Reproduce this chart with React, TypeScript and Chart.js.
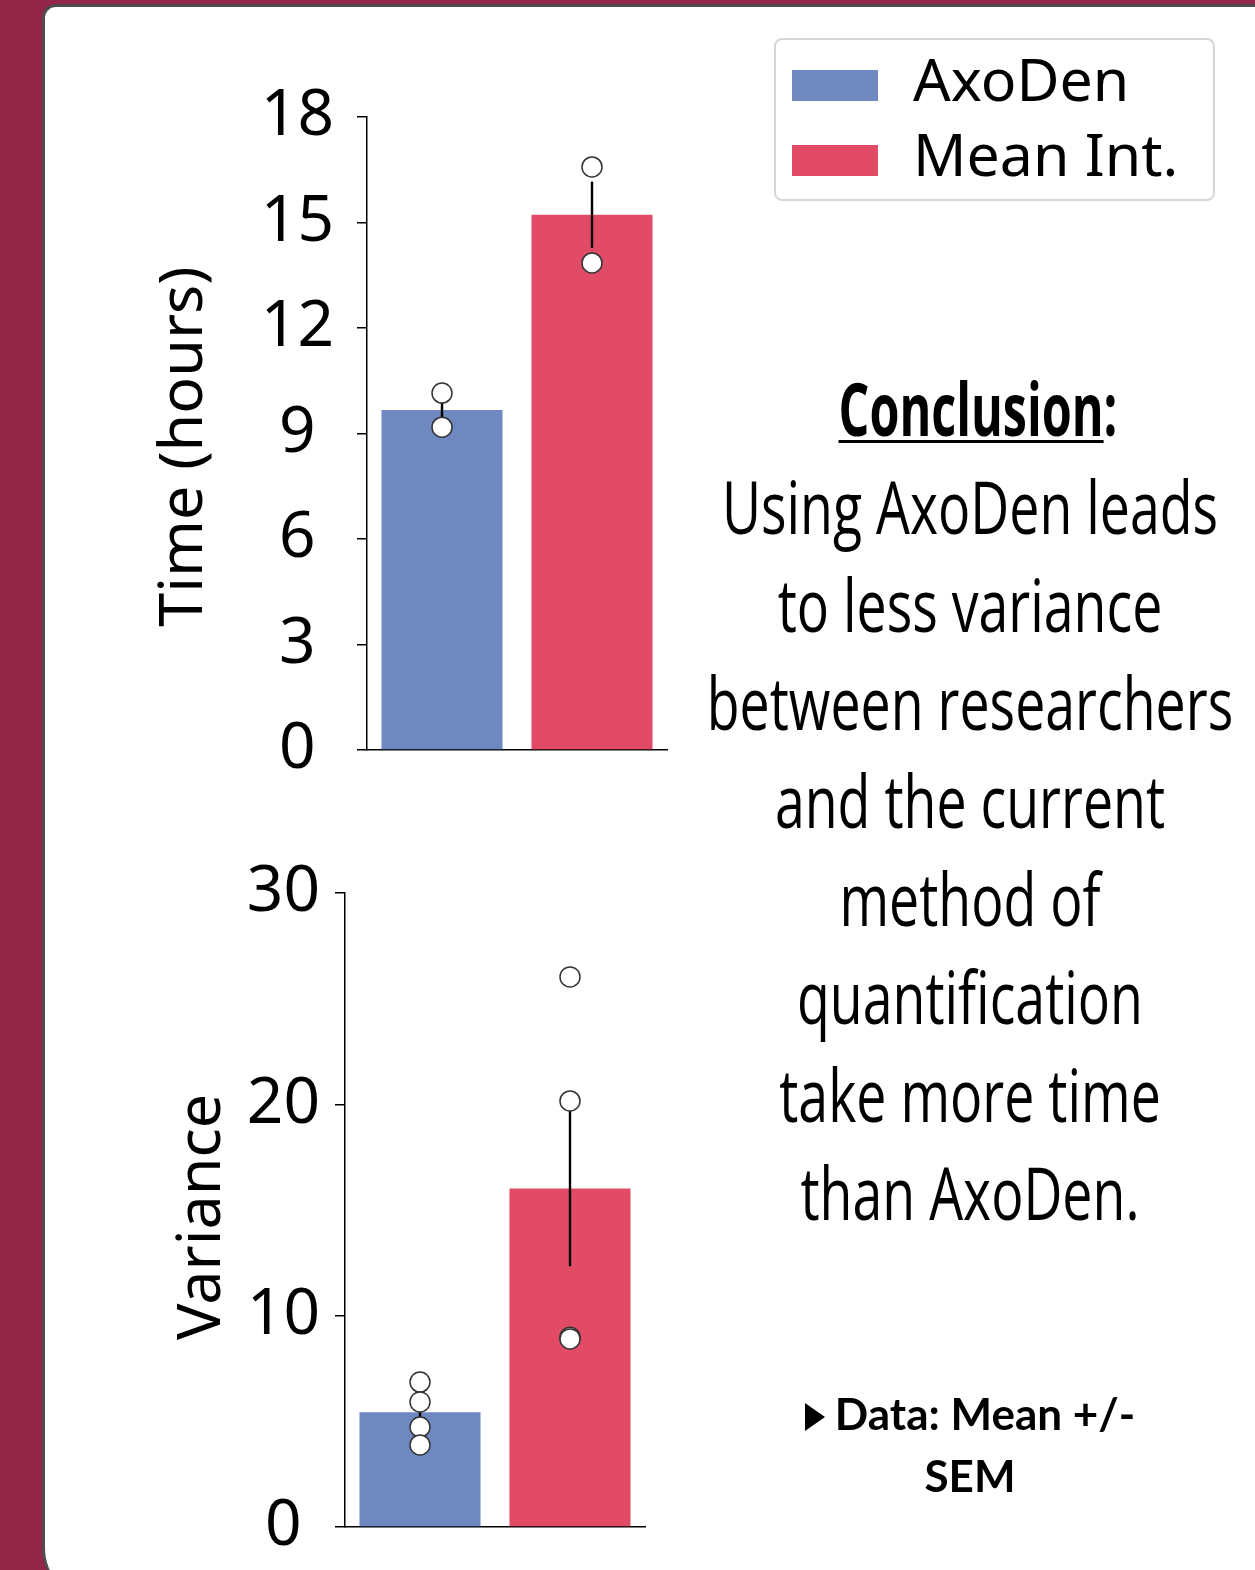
import React, { useEffect, useRef } from "react";
import { Chart, registerables } from "chart.js";

Chart.register(...registerables);

// ---------------- data ----------------
const categories = ["AxoDen", "Mean Int."];
const barColors = ["#6f88c0", "#e14b66"];

const timeMeans = [9.67, 15.22];
const timeSEM = [0.28, 0.94];
const timePointsAxoDen = [10.15, 9.18];
const timePointsMeanInt = [16.58, 13.85];
const timeTicks = [0, 3, 6, 9, 12, 15, 18];

const varianceMeans = [5.43, 16.02];
const varianceSEM = [0.57, 3.68];
const variancePointsAxoDen = [6.86, 5.92, 4.73, 3.88];
const variancePointsMeanInt = [26.03, 20.16, 8.98, 8.9];
const varianceTicks = [0, 10, 20, 30];

const conclusionLines = [
  "Using AxoDen leads",
  "to less variance",
  "between researchers",
  "and the current",
  "method of",
  "quantification",
  "take more time",
  "than AxoDen.",
];

// ---------------- chart ----------------
function errorBarPlugin(means: number[], sems: number[]) {
  return {
    id: "errorBars",
    afterDatasetDraw(chart: any, args: any) {
      if (args.index !== 0) return;
      const { ctx } = chart;
      const xs = chart.scales.x;
      const ys = chart.scales.y;
      ctx.save();
      ctx.strokeStyle = "#000";
      ctx.lineWidth = 2.4;
      means.forEach((m, i) => {
        const px = xs.getPixelForValue(i);
        ctx.beginPath();
        ctx.moveTo(px, ys.getPixelForValue(m - sems[i]));
        ctx.lineTo(px, ys.getPixelForValue(m + sems[i]));
        ctx.stroke();
      });
      ctx.restore();
    },
  };
}

function axisTitlePlugin(text: string, cx: number, dy: number) {
  return {
    id: "axisTitle",
    afterDraw(chart: any) {
      const { ctx, chartArea } = chart;
      ctx.save();
      ctx.translate(cx, (chartArea.top + chartArea.bottom) / 2 + dy);
      ctx.rotate(-Math.PI / 2);
      ctx.fillStyle = "#000";
      ctx.font = "61px 'Noto Sans'";
      ctx.textAlign = "center";
      ctx.textBaseline = "middle";
      ctx.fillText(text, 0, 0);
      ctx.restore();
    },
  };
}

type BarProps = {
  means: number[];
  sems: number[];
  ptsA: number[];
  ptsB: number[];
  ticks: number[];
  title: string;
  left: number;
  top: number;
  width: number;
  height: number;
  padding: { left: number; top: number; right: number; bottom: number };
  yWidth: number;
  tickPad: number;
  titleX: number;
  titleDy: number;
};

function BarChart(p: BarProps) {
  const ref = useRef<HTMLCanvasElement>(null);
  useEffect(() => {
    if (!ref.current) return;
    const points = [
      ...p.ptsA.map((y) => ({ x: categories[0], y })),
      ...p.ptsB.map((y) => ({ x: categories[1], y })),
    ];
    const chart = new Chart(ref.current, {
      type: "bar",
      data: {
        labels: categories,
        datasets: [
          {
            type: "bar",
            data: p.means,
            backgroundColor: barColors,
            borderWidth: 0,
            barPercentage: 0.807,
            categoryPercentage: 1,
            order: 2,
          } as any,
          {
            type: "line",
            data: points,
            showLine: false,
            pointRadius: 10,
            pointBackgroundColor: "#ffffff",
            pointBorderColor: "#333333",
            pointBorderWidth: 1.5,
            order: 1,
          } as any,
        ],
      },
      options: {
        responsive: false,
        animation: false,
        events: [],
        devicePixelRatio: 1,
        layout: { padding: p.padding },
        plugins: {
          legend: { display: false },
          tooltip: { enabled: false },
        },
        scales: {
          x: {
            type: "category",
            offset: true,
            ticks: { display: false },
            grid: { display: false, drawTicks: false },
            border: { display: true, color: "#000", width: 1.5 },
            afterFit: (s: any) => {
              s.height = 0;
            },
          },
          y: {
            min: p.ticks[0],
            max: p.ticks[p.ticks.length - 1],
            afterBuildTicks: (s: any) => {
              s.ticks = p.ticks.map((v) => ({ value: v }));
            },
            ticks: {
              color: "#000",
              font: { family: "Noto Sans", size: 64, lineHeight: 1 },
              padding: p.tickPad,
              crossAlign: "center",
            },
            grid: {
              display: true,
              drawOnChartArea: false,
              drawTicks: true,
              tickLength: 10,
              color: "#000",
              lineWidth: 1.5,
            },
            border: { display: true, color: "#000", width: 1.5 },
            title: { display: false },
            afterFit: (s: any) => {
              s.width = p.yWidth;
            },
          },
        },
      } as any,
      plugins: [errorBarPlugin(p.means, p.sems), axisTitlePlugin(p.title, p.titleX, p.titleDy)],
    });
    return () => chart.destroy();
  }, []);
  return (
    <canvas
      ref={ref}
      width={p.width}
      height={p.height}
      style={{
        position: "absolute",
        left: p.left,
        top: p.top,
        width: p.width,
        height: p.height,
      }}
    />
  );
}

const lineStyle: React.CSSProperties = {
  transform: "scaleX(0.725)",
  whiteSpace: "nowrap",
};

export default function App() {
  return (
    <div
      style={{
        position: "absolute",
        left: 0,
        top: 0,
        width: 1255,
        height: 1570,
        overflow: "hidden",
        background: "#932548",
      }}
    >
      <div
        style={{
          position: "absolute",
          left: 42,
          top: 4,
          width: 1300,
          height: 1591,
          background: "#ffffff",
          borderTop: "3px solid #4d4d4d",
          borderLeft: "3px solid #4d4d4d",
          borderRadius: "14px 0 0 50px",
        }}
      />

      <BarChart
        means={timeMeans}
        sems={timeSEM}
        ptsA={timePointsAxoDen}
        ptsB={timePointsMeanInt}
        ticks={timeTicks}
        title="Time (hours)"
        left={140}
        top={40}
        width={560}
        height={820}
        padding={{ left: 0, top: 77, right: 33, bottom: 110 }}
        yWidth={227}
        tickPad={23}
        titleX={45}
        titleDy={13}
      />

      <BarChart
        means={varianceMeans}
        sems={varianceSEM}
        ptsA={variancePointsAxoDen}
        ptsB={variancePointsMeanInt}
        ticks={varianceTicks}
        title="Variance"
        left={140}
        top={810}
        width={560}
        height={820}
        padding={{ left: 0, top: 83, right: 55, bottom: 103 }}
        yWidth={205}
        tickPad={15}
        titleX={63}
        titleDy={7}
      />

      {/* legend */}
      <div
        style={{
          position: "absolute",
          left: 774,
          top: 38,
          width: 437,
          height: 159,
          border: "2px solid #d6d6d6",
          borderRadius: 8,
          background: "#fff",
          fontFamily: "'Noto Sans', sans-serif",
          color: "#000",
        }}
      >
        <div style={{ position: "absolute", left: 16, top: 30, width: 86, height: 31, background: barColors[0] }} />
        <div style={{ position: "absolute", left: 16, top: 105, width: 86, height: 31, background: barColors[1] }} />
        <div style={{ position: "absolute", left: 137, top: -2, fontSize: 59, lineHeight: "80px", whiteSpace: "nowrap" }}>
          {categories[0]}
        </div>
        <div style={{ position: "absolute", left: 137, top: 73, fontSize: 59, lineHeight: "80px", whiteSpace: "nowrap" }}>
          {categories[1]}
        </div>
      </div>

      {/* conclusion */}
      <div
        style={{
          position: "absolute",
          left: 370,
          top: 359,
          width: 1200,
          textAlign: "center",
          fontFamily: "'Open Sans', sans-serif",
          fontSize: 74,
          lineHeight: "98px",
          color: "#000",
        }}
      >
        <div style={{ transform: "translateX(8px) scaleX(0.655)", whiteSpace: "nowrap", fontWeight: 700 }}>
          <span style={{ textDecoration: "underline", textDecorationThickness: 3, textUnderlineOffset: 4 }}>
            Conclusion
          </span>
          :
        </div>
        {conclusionLines.map((l) => (
          <div key={l} style={lineStyle}>
            {l}
          </div>
        ))}
      </div>

      {/* footnote */}
      <div
        style={{
          position: "absolute",
          left: 692,
          top: 1382,
          width: 556,
          textAlign: "center",
          fontFamily: "Lato, sans-serif",
          fontWeight: 700,
          fontSize: 44,
          lineHeight: "62px",
          color: "#000",
        }}
      >
        <div style={{ whiteSpace: "nowrap" }}>
          <span
            style={{
              display: "inline-block",
              width: 0,
              height: 0,
              borderTop: "14px solid transparent",
              borderBottom: "14px solid transparent",
              borderLeft: "20px solid #000",
              marginRight: 10,
              verticalAlign: "-1px",
            }}
          />
          Data: Mean +/-
        </div>
        <div>SEM</div>
      </div>
    </div>
  );
}
